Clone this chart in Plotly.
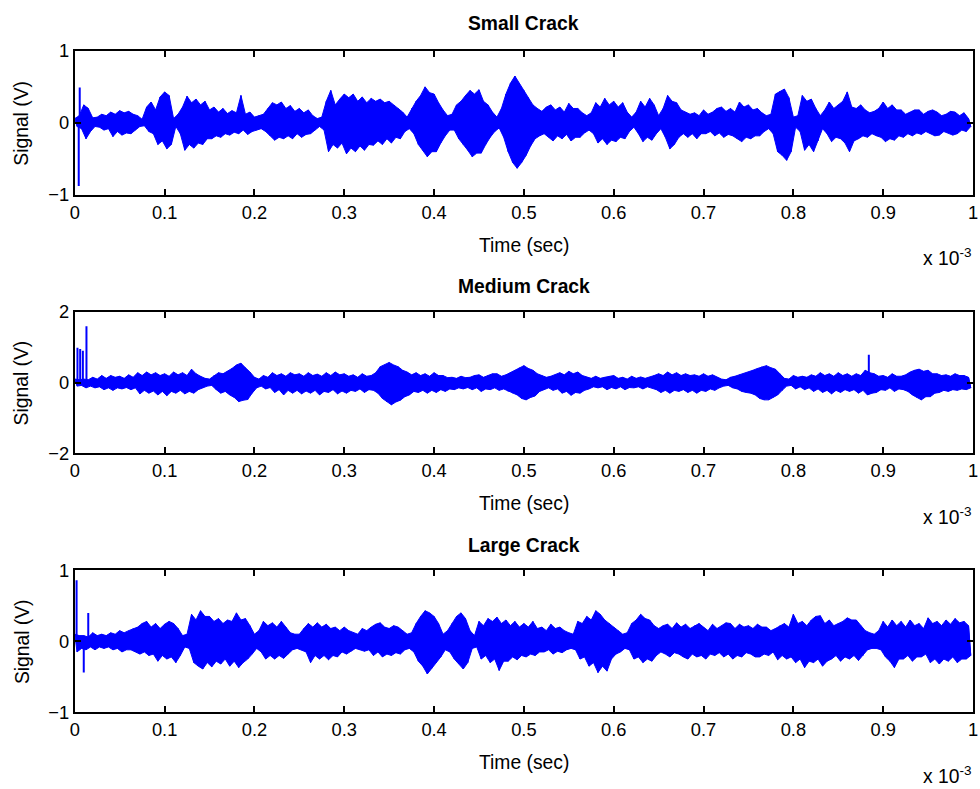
import plotly.graph_objects as go

# Time axis in units of 1e-3 s. Positive peaks sit at t, negative troughs at t + 0.0025.
N = 200
t_peak = [round(i * 0.005, 4) for i in range(N)]
t_trough = [round(i * 0.005 + 0.0025, 4) for i in range(N)]

small_up = [
    0.06, 0.10, 0.25, 0.20, 0.07, 0.08, 0.12, 0.10, 0.15, 0.12,
    0.17, 0.14, 0.16, 0.12, 0.10, 0.05, 0.22, 0.29, 0.18, 0.36,
    0.43, 0.38, 0.06, 0.12, 0.22, 0.37, 0.28, 0.33, 0.25, 0.30,
    0.18, 0.22, 0.15, 0.20, 0.13, 0.17, 0.14, 0.38, 0.12, 0.15,
    0.08, 0.10, 0.12, 0.20, 0.28, 0.25, 0.29, 0.20, 0.24, 0.16,
    0.20, 0.14, 0.18, 0.10, 0.06, 0.08, 0.30, 0.45, 0.25, 0.33,
    0.40, 0.35, 0.40, 0.30, 0.36, 0.28, 0.34, 0.30, 0.33, 0.28,
    0.30, 0.25, 0.20, 0.15, 0.08, 0.20, 0.30, 0.38, 0.50, 0.42,
    0.40, 0.28, 0.18, 0.10, 0.12, 0.25, 0.30, 0.38, 0.45, 0.40,
    0.46, 0.30, 0.25, 0.15, 0.08, 0.20, 0.40, 0.55, 0.65, 0.55,
    0.45, 0.35, 0.25, 0.20, 0.16, 0.22, 0.25, 0.18, 0.22, 0.15,
    0.27, 0.20, 0.20, 0.14, 0.10, 0.14, 0.28, 0.22, 0.34, 0.25,
    0.30, 0.22, 0.28, 0.15, 0.08, 0.15, 0.30, 0.22, 0.34, 0.25,
    0.10, 0.20, 0.38, 0.30, 0.28, 0.18, 0.15, 0.12, 0.14, 0.10,
    0.18, 0.12, 0.15, 0.20, 0.22, 0.16, 0.20, 0.15, 0.29, 0.22,
    0.25, 0.18, 0.20, 0.14, 0.10, 0.12, 0.40, 0.44, 0.47, 0.35,
    0.08, 0.10, 0.38, 0.30, 0.33, 0.20, 0.10, 0.18, 0.29, 0.20,
    0.25, 0.30, 0.43, 0.22, 0.20, 0.25, 0.18, 0.14, 0.16, 0.20,
    0.29, 0.20, 0.25, 0.18, 0.18, 0.12, 0.15, 0.18, 0.18, 0.12,
    0.16, 0.18, 0.15, 0.10, 0.12, 0.16, 0.15, 0.10, 0.14, 0.06]
small_lo = [
    -0.05, -0.08, -0.22, -0.12, -0.05, -0.06, -0.10, -0.08, -0.19, -0.12,
    -0.17, -0.14, -0.15, -0.10, -0.05, -0.04, -0.12, -0.15, -0.30, -0.25,
    -0.36, -0.30, -0.05, -0.15, -0.38, -0.30, -0.35, -0.28, -0.30, -0.22,
    -0.22, -0.18, -0.20, -0.15, -0.17, -0.13, -0.15, -0.10, -0.16, -0.12,
    -0.10, -0.08, -0.12, -0.18, -0.24, -0.20, -0.22, -0.18, -0.22, -0.15,
    -0.20, -0.16, -0.15, -0.10, -0.05, -0.10, -0.40, -0.30, -0.35, -0.28,
    -0.43, -0.35, -0.40, -0.32, -0.38, -0.30, -0.31, -0.25, -0.30, -0.22,
    -0.28, -0.20, -0.22, -0.12, -0.08, -0.15, -0.30, -0.38, -0.47, -0.40,
    -0.40, -0.28, -0.18, -0.10, -0.10, -0.22, -0.30, -0.38, -0.47, -0.42,
    -0.42, -0.30, -0.20, -0.12, -0.07, -0.20, -0.40, -0.55, -0.63, -0.55,
    -0.45, -0.32, -0.22, -0.18, -0.15, -0.20, -0.25, -0.18, -0.22, -0.16,
    -0.25, -0.20, -0.20, -0.14, -0.10, -0.15, -0.28, -0.22, -0.30, -0.24,
    -0.26, -0.20, -0.22, -0.12, -0.06, -0.15, -0.26, -0.20, -0.24, -0.15,
    -0.08, -0.20, -0.36, -0.30, -0.20, -0.15, -0.20, -0.15, -0.22, -0.15,
    -0.15, -0.12, -0.18, -0.14, -0.20, -0.16, -0.18, -0.22, -0.26, -0.20,
    -0.22, -0.18, -0.18, -0.12, -0.08, -0.15, -0.40, -0.45, -0.52, -0.40,
    -0.06, -0.12, -0.38, -0.30, -0.40, -0.25, -0.08, -0.15, -0.26, -0.20,
    -0.22, -0.28, -0.40, -0.25, -0.22, -0.18, -0.20, -0.15, -0.18, -0.20,
    -0.26, -0.22, -0.24, -0.18, -0.20, -0.15, -0.18, -0.14, -0.16, -0.12,
    -0.15, -0.18, -0.17, -0.12, -0.14, -0.17, -0.15, -0.10, -0.12, -0.05]

medium_up = [
    0.10, 0.08, 0.10, 0.08, 0.15, 0.10, 0.20, 0.12, 0.20, 0.15,
    0.18, 0.12, 0.22, 0.15, 0.28, 0.20, 0.30, 0.22, 0.28, 0.20,
    0.25, 0.18, 0.30, 0.22, 0.28, 0.20, 0.38, 0.25, 0.18, 0.12,
    0.10, 0.20, 0.28, 0.25, 0.32, 0.40, 0.50, 0.55, 0.42, 0.30,
    0.15, 0.10, 0.20, 0.15, 0.28, 0.20, 0.25, 0.18, 0.28, 0.22,
    0.25, 0.18, 0.28, 0.20, 0.24, 0.18, 0.28, 0.20, 0.30, 0.22,
    0.25, 0.18, 0.22, 0.15, 0.25, 0.18, 0.20, 0.28, 0.45, 0.50,
    0.57, 0.50, 0.45, 0.35, 0.30, 0.22, 0.28, 0.20, 0.25, 0.18,
    0.28, 0.20, 0.20, 0.14, 0.15, 0.12, 0.18, 0.14, 0.15, 0.20,
    0.22, 0.15, 0.20, 0.25, 0.25, 0.18, 0.22, 0.28, 0.35, 0.42,
    0.48, 0.40, 0.35, 0.25, 0.20, 0.15, 0.18, 0.22, 0.28, 0.22,
    0.32, 0.25, 0.30, 0.20, 0.15, 0.12, 0.18, 0.12, 0.15, 0.18,
    0.20, 0.12, 0.15, 0.10, 0.18, 0.12, 0.16, 0.12, 0.15, 0.20,
    0.25, 0.20, 0.30, 0.22, 0.28, 0.20, 0.25, 0.20, 0.22, 0.18,
    0.25, 0.18, 0.22, 0.15, 0.10, 0.08, 0.15, 0.18, 0.22, 0.25,
    0.30, 0.35, 0.40, 0.45, 0.48, 0.42, 0.38, 0.25, 0.12, 0.10,
    0.20, 0.15, 0.18, 0.15, 0.22, 0.18, 0.28, 0.20, 0.25, 0.18,
    0.28, 0.20, 0.25, 0.18, 0.25, 0.20, 0.35, 0.28, 0.25, 0.18,
    0.20, 0.15, 0.25, 0.18, 0.18, 0.22, 0.30, 0.35, 0.38, 0.32,
    0.35, 0.25, 0.25, 0.20, 0.22, 0.18, 0.25, 0.20, 0.20, 0.15]
medium_lo = [
    -0.10, -0.08, -0.15, -0.10, -0.15, -0.12, -0.20, -0.15, -0.22, -0.15,
    -0.18, -0.14, -0.20, -0.15, -0.32, -0.22, -0.30, -0.24, -0.35, -0.25,
    -0.37, -0.25, -0.30, -0.22, -0.32, -0.25, -0.30, -0.20, -0.15, -0.10,
    -0.08, -0.20, -0.30, -0.25, -0.35, -0.42, -0.54, -0.50, -0.48, -0.30,
    -0.15, -0.10, -0.18, -0.14, -0.28, -0.20, -0.35, -0.22, -0.30, -0.22,
    -0.32, -0.24, -0.30, -0.22, -0.35, -0.25, -0.28, -0.20, -0.32, -0.24,
    -0.30, -0.22, -0.25, -0.18, -0.28, -0.20, -0.22, -0.30, -0.45, -0.55,
    -0.63, -0.55, -0.50, -0.40, -0.35, -0.25, -0.28, -0.22, -0.30, -0.22,
    -0.28, -0.20, -0.25, -0.18, -0.20, -0.15, -0.18, -0.14, -0.20, -0.15,
    -0.25, -0.18, -0.20, -0.15, -0.22, -0.18, -0.25, -0.30, -0.35, -0.45,
    -0.49, -0.42, -0.38, -0.25, -0.20, -0.15, -0.22, -0.18, -0.30, -0.25,
    -0.36, -0.28, -0.30, -0.22, -0.18, -0.12, -0.15, -0.12, -0.20, -0.14,
    -0.18, -0.12, -0.20, -0.14, -0.15, -0.12, -0.18, -0.12, -0.15, -0.20,
    -0.28, -0.22, -0.30, -0.22, -0.25, -0.20, -0.28, -0.22, -0.30, -0.22,
    -0.25, -0.18, -0.22, -0.15, -0.10, -0.08, -0.15, -0.18, -0.25, -0.28,
    -0.30, -0.35, -0.45, -0.49, -0.49, -0.42, -0.35, -0.22, -0.10, -0.08,
    -0.18, -0.12, -0.20, -0.15, -0.25, -0.18, -0.28, -0.22, -0.32, -0.22,
    -0.28, -0.20, -0.25, -0.20, -0.30, -0.22, -0.35, -0.30, -0.28, -0.20,
    -0.22, -0.15, -0.25, -0.18, -0.20, -0.25, -0.35, -0.42, -0.49, -0.40,
    -0.40, -0.30, -0.28, -0.22, -0.25, -0.20, -0.22, -0.18, -0.20, -0.15]

large_up = [
    0.10, 0.08, 0.08, 0.06, 0.12, 0.08, 0.10, 0.08, 0.12, 0.10,
    0.15, 0.12, 0.15, 0.18, 0.20, 0.25, 0.28, 0.20, 0.25, 0.18,
    0.24, 0.28, 0.25, 0.18, 0.08, 0.10, 0.38, 0.30, 0.43, 0.35,
    0.35, 0.28, 0.32, 0.25, 0.30, 0.28, 0.40, 0.30, 0.32, 0.22,
    0.10, 0.15, 0.28, 0.22, 0.26, 0.20, 0.28, 0.20, 0.12, 0.10,
    0.10, 0.18, 0.25, 0.20, 0.26, 0.20, 0.24, 0.18, 0.20, 0.15,
    0.20, 0.15, 0.12, 0.10, 0.18, 0.15, 0.20, 0.24, 0.26, 0.20,
    0.18, 0.22, 0.20, 0.15, 0.10, 0.12, 0.25, 0.35, 0.43, 0.40,
    0.35, 0.25, 0.10, 0.15, 0.25, 0.35, 0.40, 0.32, 0.15, 0.08,
    0.28, 0.22, 0.32, 0.28, 0.34, 0.25, 0.30, 0.22, 0.28, 0.20,
    0.25, 0.20, 0.28, 0.18, 0.20, 0.15, 0.24, 0.18, 0.20, 0.15,
    0.12, 0.10, 0.28, 0.25, 0.35, 0.30, 0.43, 0.38, 0.30, 0.25,
    0.20, 0.15, 0.10, 0.12, 0.25, 0.30, 0.38, 0.32, 0.30, 0.22,
    0.18, 0.22, 0.24, 0.18, 0.26, 0.20, 0.24, 0.18, 0.22, 0.25,
    0.20, 0.15, 0.24, 0.18, 0.22, 0.26, 0.25, 0.18, 0.24, 0.20,
    0.22, 0.18, 0.24, 0.20, 0.20, 0.15, 0.18, 0.22, 0.25, 0.20,
    0.38, 0.25, 0.28, 0.22, 0.30, 0.35, 0.36, 0.25, 0.30, 0.22,
    0.25, 0.28, 0.33, 0.30, 0.30, 0.22, 0.15, 0.12, 0.10, 0.15,
    0.28, 0.20, 0.30, 0.22, 0.28, 0.20, 0.30, 0.22, 0.25, 0.18,
    0.33, 0.25, 0.28, 0.22, 0.30, 0.24, 0.32, 0.26, 0.28, 0.22]
large_lo = [
    -0.15, -0.10, -0.12, -0.08, -0.12, -0.08, -0.10, -0.08, -0.12, -0.10,
    -0.15, -0.12, -0.12, -0.15, -0.18, -0.15, -0.20, -0.18, -0.28, -0.20,
    -0.25, -0.22, -0.30, -0.20, -0.08, -0.10, -0.30, -0.35, -0.39, -0.30,
    -0.36, -0.28, -0.32, -0.25, -0.35, -0.28, -0.37, -0.30, -0.25, -0.18,
    -0.10, -0.15, -0.25, -0.20, -0.25, -0.20, -0.24, -0.18, -0.12, -0.10,
    -0.12, -0.15, -0.30, -0.20, -0.25, -0.20, -0.26, -0.20, -0.22, -0.15,
    -0.18, -0.14, -0.10, -0.12, -0.14, -0.12, -0.20, -0.15, -0.22, -0.18,
    -0.20, -0.16, -0.18, -0.12, -0.10, -0.15, -0.28, -0.35, -0.46, -0.38,
    -0.30, -0.22, -0.12, -0.15, -0.25, -0.32, -0.39, -0.30, -0.10, -0.08,
    -0.25, -0.20, -0.30, -0.25, -0.41, -0.28, -0.28, -0.22, -0.26, -0.20,
    -0.22, -0.18, -0.20, -0.15, -0.15, -0.12, -0.18, -0.14, -0.16, -0.12,
    -0.10, -0.12, -0.25, -0.22, -0.35, -0.30, -0.44, -0.35, -0.42, -0.25,
    -0.18, -0.15, -0.10, -0.12, -0.25, -0.22, -0.30, -0.25, -0.28, -0.20,
    -0.15, -0.18, -0.22, -0.16, -0.18, -0.22, -0.25, -0.18, -0.22, -0.20,
    -0.25, -0.18, -0.20, -0.16, -0.22, -0.18, -0.25, -0.20, -0.22, -0.16,
    -0.18, -0.22, -0.22, -0.18, -0.20, -0.15, -0.26, -0.20, -0.25, -0.22,
    -0.30, -0.25, -0.37, -0.28, -0.30, -0.25, -0.35, -0.28, -0.25, -0.20,
    -0.28, -0.22, -0.25, -0.20, -0.27, -0.20, -0.12, -0.10, -0.10, -0.12,
    -0.22, -0.28, -0.37, -0.25, -0.25, -0.20, -0.28, -0.22, -0.22, -0.18,
    -0.30, -0.25, -0.32, -0.25, -0.28, -0.22, -0.30, -0.25, -0.25, -0.20]

# Isolated transients (time, amplitude)
small_spk_t = [0.0044, 0.0055, 0.013]
small_spk_v = [-0.875, 0.49, 0.22]
medium_spk_t = [0.003, 0.006, 0.009, 0.013, 0.884]
medium_spk_v = [0.99, 0.95, 0.90, 1.60, 0.79]
large_spk_t = [0.002, 0.010, 0.015]
large_spk_v = [0.86, -0.44, 0.40]

titles = ["Small Crack", "Medium Crack", "Large Crack"]
y_ranges = [[-1, 1], [-2, 2], [-1, 1]]
y_ticks = [[-1, 0, 1], [-2, 0, 2], [-1, 0, 1]]
x_ticks = [round(i * 0.1, 1) for i in range(11)]
x_ticktext = ["0", "0.1", "0.2", "0.3", "0.4", "0.5", "0.6", "0.7", "0.8", "0.9", "1"]

panels = [
    (small_up, small_lo, small_spk_t, small_spk_v),
    (medium_up, medium_lo, medium_spk_t, medium_spk_v),
    (large_up, large_lo, large_spk_t, large_spk_v),
]

W, H = 980, 789
# The page body keeps its default 8px margin, so the captured page is a bit
# larger than the figure and gets fitted back; rows are given in final pixels.
BODY = 8
SY = H / (H + 2 * BODY)


def fy(py):
    return 1 - (py / SY - BODY) / H


def px(x):
    return x / W


# horizontal axes extent in figure pixels
X_LEFT, X_RIGHT = 70.5, 978
x_dom = [px(X_LEFT), px(X_RIGHT)]
# pixel rows of (top, bottom) for each axes box
boxes = [(48, 193), (311, 453), (571, 714)]
title_rows = [20, 285, 546]

BLUE = "#0000FF"
FONT = "Liberation Sans, Arial, sans-serif"
TICK_FS = 18.3
LABEL_FS = 19.3

fig = go.Figure()
layout = dict(
    width=W, height=H, margin=dict(l=0, r=0, t=0, b=0, pad=0),
    paper_bgcolor="white", plot_bgcolor="white", showlegend=False,
    font=dict(family=FONT, size=TICK_FS, color="black"),
)
annotations = []

for k, (up, lo, st, sv) in enumerate(panels):
    xa = "x" if k == 0 else f"x{k + 1}"
    ya = "y" if k == 0 else f"y{k + 1}"
    # solid band between peaks and troughs
    fig.add_trace(go.Scatter(
        x=t_peak + t_trough[::-1], y=up + lo[::-1],
        mode="lines", fill="toself", fillcolor=BLUE,
        line=dict(color=BLUE, width=1), xaxis=xa, yaxis=ya, hoverinfo="skip"))
    # oscillation: alternate peak / trough
    zx, zy = [], []
    for a, b, c, d in zip(t_peak, up, t_trough, lo):
        zx += [a, c]
        zy += [b, d]
    fig.add_trace(go.Scatter(x=zx, y=zy, mode="lines",
                             line=dict(color=BLUE, width=1),
                             xaxis=xa, yaxis=ya))
    # transients
    sx, sy = [], []
    for a, b in zip(st, sv):
        sx += [a, a, None]
        sy += [0, b, None]
    fig.add_trace(go.Scatter(x=sx, y=sy, mode="lines",
                             line=dict(color=BLUE, width=2),
                             xaxis=xa, yaxis=ya))

    top, bot = boxes[k]
    y_dom = [fy(bot), fy(top)]
    axis_common = dict(showline=True, linecolor="black", linewidth=2, mirror="ticks",
                       ticks="inside", ticklen=6, tickwidth=1.5, tickcolor="black",
                       showgrid=False, zeroline=False, ticklabeloverflow="allow",
                       tickfont=dict(family=FONT, size=TICK_FS, color="black"))
    layout["xaxis" if k == 0 else f"xaxis{k + 1}"] = dict(
        domain=x_dom, range=[0, 1], tickvals=x_ticks, ticktext=x_ticktext,
        anchor=ya, **axis_common)
    layout["yaxis" if k == 0 else f"yaxis{k + 1}"] = dict(
        domain=y_dom, range=y_ranges[k], tickvals=y_ticks[k],
        anchor=xa, **axis_common)

    mid_x = px((X_LEFT + X_RIGHT) / 2)
    annotations.append(dict(text=f"<b>{titles[k]}</b>", x=mid_x, y=fy(title_rows[k]),
                            xref="paper", yref="paper", showarrow=False,
                            font=dict(family=FONT, size=LABEL_FS), yanchor="middle"))
    annotations.append(dict(text="Time (sec)", x=mid_x, y=fy(bot + 51),
                            xref="paper", yref="paper", showarrow=False,
                            font=dict(family=FONT, size=LABEL_FS), yanchor="middle"))
    annotations.append(dict(text="x 10<sup>-3</sup>", x=px(978), y=fy(bot + 63),
                            xref="paper", yref="paper", showarrow=False, xanchor="right",
                            font=dict(family=FONT, size=LABEL_FS), yanchor="middle"))
    annotations.append(dict(text="Signal (V)", x=px(17), y=fy((top + bot) / 2),
                            xref="paper", yref="paper", showarrow=False, textangle=-90,
                            font=dict(family=FONT, size=LABEL_FS), xanchor="center",
                            yanchor="middle"))

layout["annotations"] = annotations
fig.update_layout(**layout)
fig.write_html("out.html")
